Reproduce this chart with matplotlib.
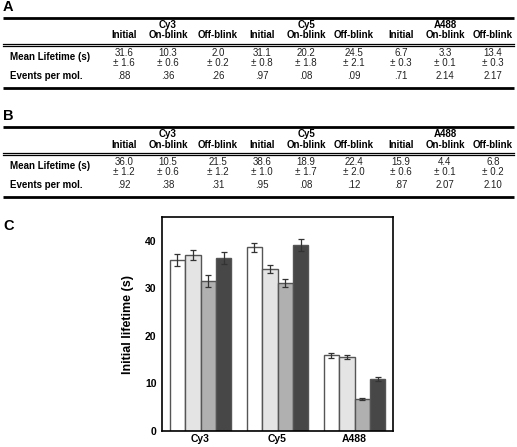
import matplotlib
matplotlib.use("Agg")
import matplotlib.pyplot as plt
import numpy as np

plt.rcParams["font.family"] = ["Liberation Sans", "DejaVu Sans"]

# table data
dyes = ["Cy3", "Cy5", "A488"]
states = ["Initial", "On-blink", "Off-blink"]
row_labels = ["Mean Lifetime (s)", "Events per mol."]

a_mean = ["31.6", "10.3", "2.0", "31.1", "20.2", "24.5", "6.7", "3.3", "13.4"]
a_err = ["± 1.6", "± 0.6", "± 0.2", "± 0.8", "± 1.8", "± 2.1", "± 0.3", "± 0.1", "± 0.3"]
a_events = [".88", ".36", ".26", ".97", ".08", ".09", ".71", "2.14", "2.17"]

b_mean = ["36.0", "10.5", "21.5", "38.6", "18.9", "22.4", "15.9", "4.4", "6.8"]
b_err = ["± 1.2", "± 0.6", "± 1.2", "± 1.0", "± 1.7", "± 2.0", "± 0.6", "± 0.1", "± 0.2"]
b_events = [".92", ".38", ".31", ".95", ".08", ".12", ".87", "2.07", "2.10"]

# bar chart data (panel C)
groups = ["Cy3", "Cy5", "A488"]
c_vals = [
    [36.0, 38.6, 15.9],
    [37.0, 34.1, 15.5],
    [31.6, 31.1, 6.7],
    [36.4, 39.1, 11.0],
]
c_errs = [
    [1.2, 1.0, 0.6],
    [1.1, 0.9, 0.4],
    [1.3, 0.8, 0.2],
    [1.3, 1.3, 0.4],
]
bar_colors = ["#ffffff", "#e4e4e4", "#b0b0b0", "#474747"]

W, H = 517, 447
fig = plt.figure(figsize=(W / 100, H / 100), dpi=100)
bg = fig.add_axes([0, 0, 1, 1])
bg.set_xlim(0, W)
bg.set_ylim(H, 0)
bg.axis("off")

col_x = [124, 168, 218, 262, 306, 354, 401, 445, 493]
fs = 7.0


def draw_table(y0, label, means, errs, events):
    bg.text(3, y0 - 11, label, fontsize=10.5, fontweight="bold", va="center", ha="left")
    bg.plot([3, 514], [y0, y0], color="black", lw=2.0, solid_capstyle="butt")
    for k, d in enumerate(dyes):
        bg.text(col_x[3 * k + 1], y0 + 7, d, fontsize=fs, fontweight="bold", ha="center", va="center")
    for i, x in enumerate(col_x):
        bg.text(x, y0 + 17.5, states[i % 3], fontsize=fs, fontweight="bold", ha="center", va="center")
    bg.plot([3, 514], [y0 + 25.5, y0 + 25.5], color="black", lw=0.9)
    bg.plot([3, 514], [y0 + 28, y0 + 28], color="black", lw=0.9)
    bg.text(10, y0 + 39, row_labels[0], fontsize=fs, fontweight="bold", ha="left", va="center")
    bg.text(10, y0 + 58, row_labels[1], fontsize=fs, fontweight="bold", ha="left", va="center")
    for i, x in enumerate(col_x):
        bg.text(x, y0 + 35, means[i], fontsize=fs, ha="center", va="center", color="#222")
        bg.text(x, y0 + 45, errs[i], fontsize=fs, ha="center", va="center", color="#222")
        bg.text(x, y0 + 58, events[i], fontsize=fs, ha="center", va="center", color="#222")
    bg.plot([3, 514], [y0 + 70, y0 + 70], color="black", lw=2.0, solid_capstyle="butt")


draw_table(18, "A", a_mean, a_err, a_events)
draw_table(127, "B", b_mean, b_err, b_events)
bg.text(3, 226, "C", fontsize=10.5, fontweight="bold", va="center", ha="left")

# panel C bar chart
ax = fig.add_axes([162 / W, (H - 431) / H, 231 / W, (431 - 217) / H])
x = np.arange(len(groups))
w = 0.2
for k in range(4):
    ax.bar(x + (k - 1.5) * w, c_vals[k], w, color=bar_colors[k], edgecolor="#555555",
           linewidth=1.0, yerr=c_errs[k], capsize=2,
           error_kw=dict(ecolor="#333333", elinewidth=0.9, capthick=0.9))
ax.set_xlim(-0.5, 2.5)
ax.set_ylim(0, 45)
ax.set_yticks([0, 10, 20, 30, 40])
ax.set_xticks(x)
ax.set_xticklabels(groups, fontsize=7.5, fontweight="bold")
for t in ax.get_yticklabels():
    t.set_fontweight("bold")
    t.set_fontsize(7.5)
ax.tick_params(axis="x", length=0, pad=2)
ax.tick_params(axis="y", length=0, pad=4)
ax.set_ylabel("Initial lifetime (s)", fontsize=9, fontweight="bold", labelpad=8)
for s in ax.spines.values():
    s.set_linewidth(1.2)

fig.savefig("out.png", dpi=100, facecolor="white")
